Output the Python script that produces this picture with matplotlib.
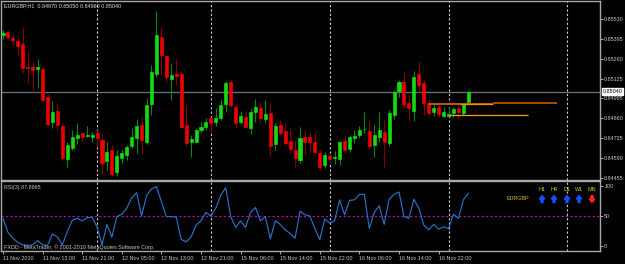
import matplotlib
matplotlib.use('Agg')
import matplotlib.pyplot as plt
from matplotlib.patches import FancyArrow
import matplotlib.transforms as mtransforms

plt.rcParams['font.family'] = ['Liberation Sans', 'DejaVu Sans']

# EURGBP H1 bars, 11 Nov 2010 05:00 .. 17 Nov 2010 04:00
opens = [0.85422, 0.85442, 0.85402, 0.85382, 0.85361, 0.85206, 0.85206, 0.85192, 0.85192, 0.85004,
         0.84835, 0.84909, 0.84808, 0.84585, 0.84659, 0.84727, 0.84760, 0.84740, 0.84734, 0.84760,
         0.84713, 0.84572, 0.84646, 0.84497, 0.84592, 0.84612, 0.84673, 0.84727, 0.84814, 0.84700,
         0.84956, 0.85159, 0.85408, 0.85280, 0.85125, 0.85159, 0.85159, 0.84814, 0.84700, 0.84700,
         0.84781, 0.84801, 0.84862, 0.84835, 0.84862, 0.84956, 0.85105, 0.84936, 0.84835, 0.84868,
         0.84794, 0.84902, 0.84929, 0.84855, 0.84896, 0.84686, 0.84814, 0.84774, 0.84706, 0.84646,
         0.84578, 0.84734, 0.84734, 0.84700, 0.84626, 0.84544, 0.84605, 0.84592, 0.84585, 0.84706,
         0.84652, 0.84727, 0.84747, 0.84785, 0.84774, 0.84680, 0.84734, 0.84767, 0.84693, 0.84882,
         0.85044, 0.85105, 0.84963, 0.84909, 0.85159, 0.85098, 0.84963, 0.84902, 0.84936, 0.84875,
         0.84875, 0.84896, 0.84929, 0.84896, 0.84970]
highs = [0.85456, 0.85456, 0.85429, 0.85402, 0.85476, 0.85307, 0.85240, 0.85260, 0.85206, 0.85024,
         0.84976, 0.84963, 0.84828, 0.84700, 0.84781, 0.84828, 0.84767, 0.84808, 0.84767, 0.84781,
         0.84760, 0.84700, 0.84680, 0.84646, 0.84646, 0.84680, 0.84794, 0.84855, 0.84868, 0.84997,
         0.85220, 0.85584, 0.85476, 0.85287, 0.85233, 0.85260, 0.85179, 0.84950, 0.84747, 0.84794,
         0.84835, 0.84862, 0.84868, 0.84929, 0.84990, 0.85112, 0.85118, 0.84963, 0.84909, 0.84909,
         0.84929, 0.84990, 0.84970, 0.84983, 0.84963, 0.84828, 0.84848, 0.84828, 0.84788, 0.84713,
         0.84801, 0.84781, 0.84760, 0.84760, 0.84646, 0.84632, 0.84626, 0.84639, 0.84706, 0.84747,
         0.84747, 0.84781, 0.84808, 0.84902, 0.84848, 0.84814, 0.84902, 0.84848, 0.84916, 0.85051,
         0.85118, 0.85172, 0.85017, 0.85179, 0.85240, 0.85125, 0.84990, 0.84963, 0.84950, 0.84936,
         0.84936, 0.84936, 0.84950, 0.84963, 0.85050]
lows = [0.85395, 0.85388, 0.85354, 0.85287, 0.85166, 0.85098, 0.85037, 0.85064, 0.84970, 0.84808,
        0.84794, 0.84781, 0.84578, 0.84531, 0.84646, 0.84686, 0.84700, 0.84734, 0.84700, 0.84666,
        0.84484, 0.84511, 0.84470, 0.84470, 0.84558, 0.84578, 0.84659, 0.84626, 0.84626, 0.84686,
        0.84882, 0.85138, 0.85152, 0.85105, 0.84983, 0.85084, 0.84794, 0.84673, 0.84598, 0.84693,
        0.84760, 0.84781, 0.84767, 0.84808, 0.84848, 0.84902, 0.84936, 0.84794, 0.84821, 0.84794,
        0.84754, 0.84835, 0.84828, 0.84828, 0.84605, 0.84646, 0.84747, 0.84680, 0.84626, 0.84531,
        0.84558, 0.84612, 0.84632, 0.84626, 0.84511, 0.84524, 0.84558, 0.84551, 0.84544, 0.84626,
        0.84632, 0.84693, 0.84727, 0.84760, 0.84659, 0.84598, 0.84700, 0.84524, 0.84673, 0.84855,
        0.85004, 0.84929, 0.84848, 0.84842, 0.85030, 0.84882, 0.84875, 0.84875, 0.84868, 0.84868,
        0.84868, 0.84868, 0.84855, 0.84882, 0.84960]
closes = [0.85435, 0.85408, 0.85388, 0.85348, 0.85199, 0.85199, 0.85186, 0.85206, 0.84983, 0.84821,
          0.84902, 0.84814, 0.84592, 0.84680, 0.84734, 0.84747, 0.84734, 0.84747, 0.84747, 0.84727,
          0.84558, 0.84632, 0.84484, 0.84605, 0.84626, 0.84666, 0.84734, 0.84808, 0.84713, 0.84950,
          0.85172, 0.85422, 0.85287, 0.85138, 0.85152, 0.85145, 0.84801, 0.84693, 0.84720, 0.84781,
          0.84801, 0.84835, 0.84828, 0.84862, 0.84950, 0.85098, 0.84950, 0.84828, 0.84875, 0.84801,
          0.84902, 0.84936, 0.84862, 0.84889, 0.84673, 0.84808, 0.84760, 0.84693, 0.84652, 0.84592,
          0.84727, 0.84700, 0.84700, 0.84632, 0.84531, 0.84612, 0.84585, 0.84598, 0.84700, 0.84646,
          0.84734, 0.84740, 0.84781, 0.84788, 0.84673, 0.84747, 0.84781, 0.84700, 0.84896, 0.85037,
          0.85105, 0.84956, 0.84929, 0.85138, 0.85084, 0.84963, 0.84896, 0.84929, 0.84889, 0.84902,
          0.84889, 0.84922, 0.84902, 0.84956, 0.85040]

rsi = [46, 23, 13, 6, 2, 1, 2, 9, 2, 1, 20, 15, 2, 24, 43, 46, 42, 47, 48, 32,
       2, 36, 15, 49, 53, 63, 80, 89, 50, 84, 95, 99, 74, 49, 49, 48, 11, 7, 15, 35,
       42, 56, 50, 63, 85, 97, 49, 31, 42, 31, 56, 64, 42, 49, 12, 42, 36, 27, 21, 13,
       58, 52, 50, 29, 11, 45, 38, 42, 77, 52, 76, 77, 86, 86, 29, 56, 67, 36, 78, 86,
       90, 49, 46, 78, 63, 35, 27, 36, 28, 32, 29, 53, 46, 77, 88]

day_breaks = [19, 42, 66, 90, 114]
time_ticks = [0, 8, 16, 24, 32, 40, 48, 56, 64, 72, 80, 88]
time_labels = ['11 Nov 2010', '11 Nov 13:00', '11 Nov 21:00', '12 Nov 05:00', '12 Nov 13:00',
               '12 Nov 21:00', '15 Nov 06:00', '15 Nov 14:00', '15 Nov 22:00', '16 Nov 06:00',
               '16 Nov 14:00', '16 Nov 22:00']
price_ticks = [0.85530, 0.85395, 0.85260, 0.85125, 0.84995, 0.84860, 0.84725, 0.84590, 0.84455]
price_labels = ['0.85530', '0.85395', '0.85260', '0.85125', '0.84995', '0.84860', '0.84725',
                '0.84590', '0.84455']
bid = 0.85040

# orange levels drawn by an indicator on the right
upper_starts = [86, 99, 105.5]
upper_ends = [99, 105.5, 112]
upper_levels = [0.84954, 0.84961, 0.84965]
lower_start, lower_end, lower_level = 90, 106, 0.84882

tf_names = ['H1', 'H4', 'D1', 'W1', 'MN']
tf_up = [True, True, True, True, False]

BG = '#000000'
FG = '#c8c8c8'
FRAME = '#a8a8a8'
FS = 3.9

fig = plt.figure(figsize=(6.25, 2.64), dpi=100, facecolor=BG)
W, H = 625.0, 264.0
ax = fig.add_axes([1 / W, 1 - 180 / H, 599 / W, 179 / H], facecolor=BG)
ax2 = fig.add_axes([1 / W, 1 - 251 / H, 599 / W, 70 / H], facecolor=BG)

# candles
for i, (o, h, l, c) in enumerate(zip(opens, highs, lows, closes)):
    up = c >= o
    wick = '#0a8a0a' if up else '#8a0000'
    body = '#1ed21e' if up else '#ee0000'
    edge = '#00ff00' if up else '#ff0000'
    ax.vlines(i, l, h, color=wick, lw=0.8, zorder=2)
    lo = min(o, c)
    hgt = max(abs(c - o), 0.00004)
    ax.bar(i, hgt, bottom=lo, width=0.62, color=body, edgecolor=edge, linewidth=0.4, zorder=3)

ax.axhline(bid, color='#647484', lw=0.9, zorder=1)

for s, e, lv, col in zip(upper_starts, upper_ends, upper_levels, ['#c05a00', '#a85000', '#a85000']):
    ax.hlines(lv, s, e, color=col, lw=1.4, zorder=4)
ax.hlines(upper_levels[0] + 0.00002, 92.3, 99, color='#ff8c00', lw=0.9, zorder=5)
ax.hlines(lower_level, lower_start, lower_end, color='#ffa020', lw=0.9, zorder=4)

ax.set_xlim(-0.4, 120.6)
ax.set_ylim(0.844432, 0.856515)
ax2.set_xlim(-0.4, 120.6)
ax2.set_ylim(-8.3, 108.3)

for a in (ax, ax2):
    for xb in day_breaks:
        a.axvline(xb, color='#d0d0d0', lw=0.8, ls=(0, (2, 2)), zorder=1)
    for sp in a.spines.values():
        sp.set_color(FRAME)
        sp.set_linewidth(1.0)
    a.yaxis.tick_right()
    a.tick_params(axis='y', colors=FG, labelsize=FS, length=2, width=0.6, pad=1.0)

ax.set_xticks([])
ax.set_yticks(price_ticks)
ax.set_yticklabels(price_labels)

# bid price box
trans = mtransforms.blended_transform_factory(ax.transAxes, ax.transData)
ax.text(1.004, bid, '0.85040', transform=trans, fontsize=FS, color='black', va='center', ha='left',
        bbox=dict(boxstyle='square,pad=0.15', facecolor='white', edgecolor='white'), zorder=10)

# RSI
ax2.plot(range(len(rsi)), rsi, color='#2a78d0', lw=0.8, zorder=3)
ax2.axhline(50, color='#c000c0', lw=0.8, ls=(0, (2, 2)), zorder=2)
ax2.set_yticks([0, 50, 100])
ax2.set_yticklabels(['0', '50', '100'])
ax2.set_xticks(time_ticks)
ax2.set_xticklabels(time_labels)
ax2.tick_params(axis='x', colors=FG, labelsize=FS, length=2, width=0.6, pad=1.5)
for lab in ax2.get_xticklabels():
    lab.set_ha('left')

# texts
def ftext(x, y, s, **kw):
    fig.text(x / W, 1 - y / H, s, fontsize=FS, va='center', **kw)

ftext(4, 6, 'EURGBP,H1  0.84970 0.85050 0.84960 0.85040', color='#e0e0e0')
ftext(4, 188, 'RSI(3) 87.8965', color=FG)
ftext(4, 247, 'FXDD - MetaTrader, \u00a9 2001-2010 MetaQuotes Software Corp.', color=FG)

tf_x = [542, 554, 567, 579, 592]
for x, name, up in zip(tf_x, tf_names, tf_up):
    ftext(x, 189.5, name, color='#d8c800', ha='center')
    if up:
        arr = FancyArrow(x / W, 1 - 202.5 / H, 0, 7 / H, width=2 / W, head_width=5.5 / W,
                         head_length=3.5 / H, length_includes_head=True, color='#1450ff',
                         transform=fig.transFigure)
    else:
        arr = FancyArrow(x / W, 1 - 195.5 / H, 0, -7 / H, width=2 / W, head_width=5.5 / W,
                         head_length=3.5 / H, length_includes_head=True, color='#ff2020',
                         transform=fig.transFigure)
    fig.add_artist(arr)
ftext(518, 199, 'EURGBP', color='#d8c800', ha='center')

fig.savefig('out.png', dpi=100, facecolor=BG)
